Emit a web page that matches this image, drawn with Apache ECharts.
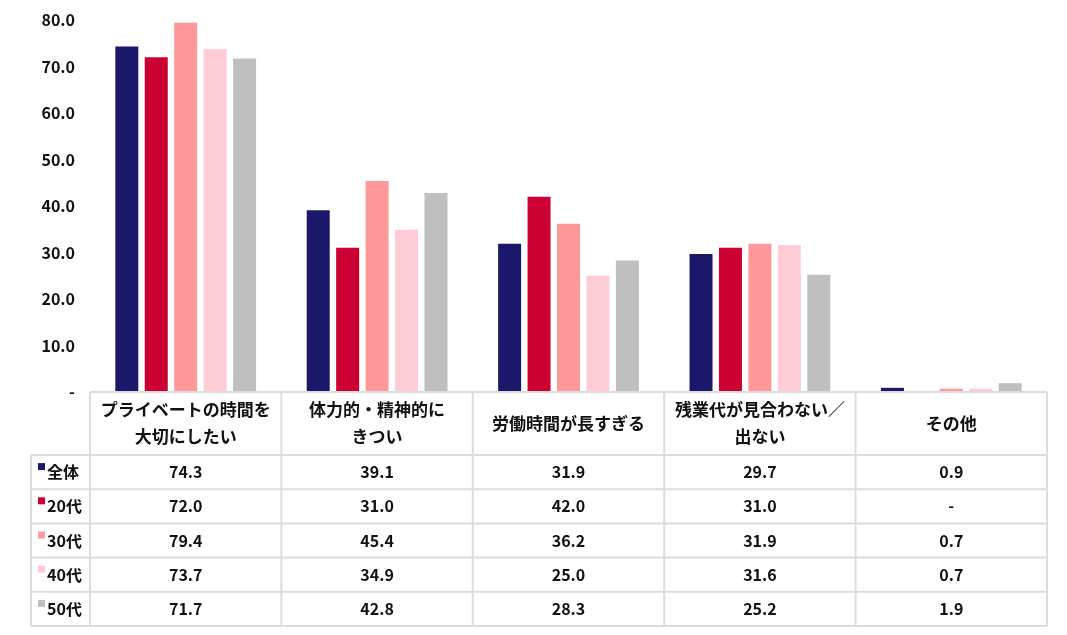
<!DOCTYPE html>
<html><head><meta charset="utf-8">
<script src="https://cdn.jsdelivr.net/npm/echarts@6/dist/echarts.min.js"></script>
<style>html,body{margin:0;padding:0;background:#fff;}#c{width:1067px;height:635px;}</style>
</head><body><div id="c"></div>
<script>
var categories = ['プライベートの時間を\n大切にしたい', '体力的・精神的に\nきつい', '労働時間が長すぎる', '残業代が見合わない／\n出ない', 'その他'];
var seriesNames = ['全体', '20代', '30代', '40代', '50代'];
var colors = ['#1b186b', '#cc0033', '#ff9999', '#ffccd5', '#bfbfbf'];
var vAll = [74.3, 39.1, 31.9, 29.7, 0.9];
var v20 = [72.0, 31.0, 42.0, 31.0, null];
var v30 = [79.4, 45.4, 36.2, 31.9, 0.7];
var v40 = [73.7, 34.9, 25.0, 31.6, 0.7];
var v50 = [71.7, 42.8, 28.3, 25.2, 1.9];
var seriesData = [vAll, v20, v30, v40, v50];
var yTicks = [0, 10, 20, 30, 40, 50, 60, 70, 80];

var FONT = '"Noto Sans CJK JP", "Noto Sans", sans-serif';
var G = {left: 90, right: 20, top: 20, bottom: 243};
var W = 1067, H = 635;
var plotW = W - G.left - G.right;
var colW = plotW / categories.length;
var yBase = H - G.bottom;
var headH = 63, rowH = 34.2, legX = 31;
var lineC = '#dcdcdc';

function fmt(v) { return (v === null || v === 0) ? '-' : v.toFixed(1); }

var graphics = [];
var tableBottom = yBase + headH + rowH * seriesNames.length;
graphics.push({type:'line', shape:{x1:G.left, y1:yBase, x2:G.left+plotW, y2:yBase}, style:{stroke:lineC, lineWidth:2}, z:10});
for (var r = 0; r <= seriesNames.length; r++) {
  var y = yBase + headH + rowH * r;
  graphics.push({type:'line', shape:{x1:legX, y1:y, x2:G.left+plotW, y2:y}, style:{stroke:lineC, lineWidth:2}, z:10});
}
graphics.push({type:'line', shape:{x1:legX, y1:yBase+headH, x2:legX, y2:tableBottom}, style:{stroke:lineC, lineWidth:2}, z:10});
for (var c = 0; c <= categories.length; c++) {
  var x = G.left + colW * c;
  graphics.push({type:'line', shape:{x1:x, y1:yBase, x2:x, y2:tableBottom}, style:{stroke:lineC, lineWidth:2}, z:10});
}
categories.forEach(function(cat, i) {
  graphics.push({type:'text', x: G.left + colW * (i + 0.5), y: yBase + headH / 2,
    style:{text: cat, fill:'#111', font:'bold 17px ' + FONT, align:'center', verticalAlign:'middle', lineHeight:27}, z:11});
});
seriesNames.forEach(function(name, r) {
  var yc = yBase + headH + rowH * (r + 0.5);
  graphics.push({type:'rect', shape:{x:38, y:yc-9, width:7, height:7}, style:{fill:colors[r]}, z:11});
  graphics.push({type:'text', x:47, y:yc, style:{text:name, fill:'#111', font:'bold 16px ' + FONT, align:'left', verticalAlign:'middle'}, z:11});
  seriesData[r].forEach(function(v, i) {
    graphics.push({type:'text', x: G.left + colW * (i + 0.5), y: yc,
      style:{text: fmt(v), fill:'#111', font:'bold 16px ' + FONT, align:'center', verticalAlign:'middle'}, z:11});
  });
});

var chart = echarts.init(document.getElementById('c'));
chart.setOption({
  animation: false,
  backgroundColor: '#fff',
  grid: {left: G.left, right: G.right, top: G.top, bottom: G.bottom, containLabel: false},
  xAxis: {type:'category', data: categories, axisLine:{show:false}, axisTick:{show:false}, axisLabel:{show:false}},
  yAxis: {type:'value', min: yTicks[0], max: yTicks[yTicks.length-1], interval: 10,
    axisLine:{show:false}, axisTick:{show:false}, splitLine:{show:false},
    axisLabel:{margin: 15, color:'#111', fontWeight:'bold', fontSize:16, fontFamily: FONT,
      formatter: function(v){ return v === 0 ? '-' : v.toFixed(1); }}},
  series: seriesNames.map(function(n, i) {
    return {name:n, type:'bar', data: seriesData[i], barWidth: 23, barGap: '28%',
      itemStyle:{color: colors[i]}};
  }),
  graphic: graphics
});
</script></body></html>
